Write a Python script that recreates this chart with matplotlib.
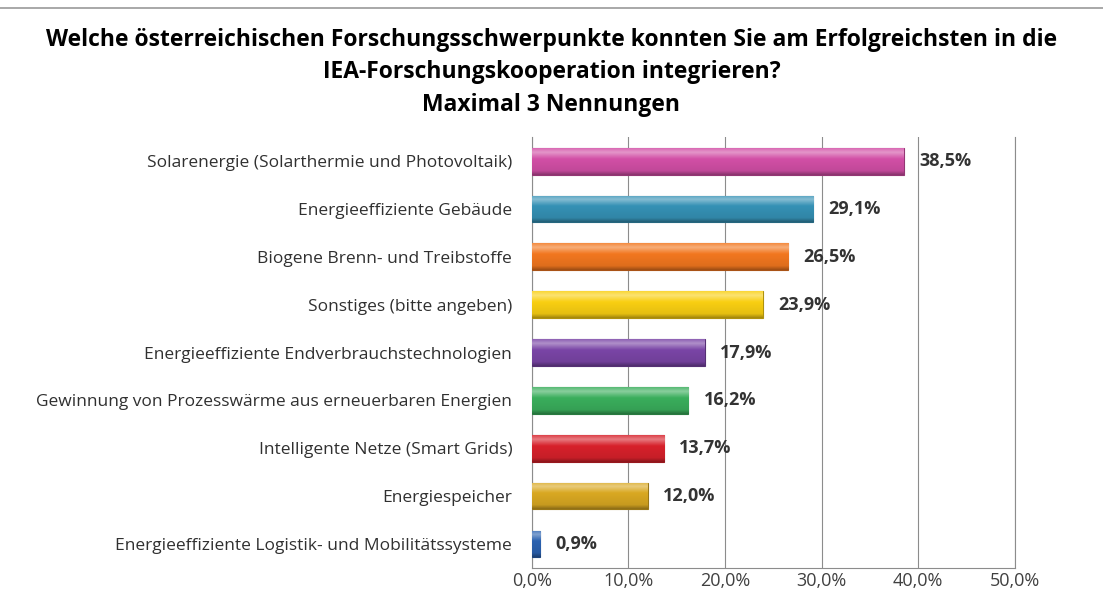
import numpy as np
import matplotlib.pyplot as plt
from matplotlib.colors import LinearSegmentedColormap, to_rgb

categories = [
    "Solarenergie (Solarthermie und Photovoltaik)",
    "Energieeffiziente Gebäude",
    "Biogene Brenn- und Treibstoffe",
    "Sonstiges (bitte angeben)",
    "Energieeffiziente Endverbrauchstechnologien",
    "Gewinnung von Prozesswärme aus erneuerbaren Energien",
    "Intelligente Netze (Smart Grids)",
    "Energiespeicher",
    "Energieeffiziente Logistik- und Mobilitätssysteme",
]
values = [38.5, 29.1, 26.5, 23.9, 17.9, 16.2, 13.7, 12.0, 0.9]
colors = ["#d24fa6", "#3591b5", "#f2771f", "#f9cf12", "#7a45a6",
          "#3aae5c", "#d7212b", "#d9a822", "#2b62b0"]
xticks = [0, 10, 20, 30, 40, 50]

plt.rcParams['font.family'] = ['Open Sans', 'DejaVu Sans']

fig = plt.figure(figsize=(11.03, 5.94), dpi=100)
ax = fig.add_axes([0.482, 0.044, 0.438, 0.725])

y = np.arange(len(categories))
bars = ax.barh(y, values, height=0.56, color=colors, zorder=3)


def shade(c, f):
    r = np.array(to_rgb(c))
    if f > 0:
        return tuple(r + (1 - r) * f)
    return tuple(r * (1 + f))


# glossy gradient on each bar (top light, bottom dark)
for b, c in zip(bars, colors):
    cmap = LinearSegmentedColormap.from_list(
        "g", [(0, shade(c, 0.15)), (0.15, shade(c, 0.4)), (0.4, c),
              (0.85, shade(c, -0.08)), (1, shade(c, -0.35))])
    grad = np.linspace(0, 1, 64).reshape(-1, 1)
    x0, y0 = b.get_x(), b.get_y()
    w, h = b.get_width(), b.get_height()
    im = ax.imshow(grad, cmap=cmap, extent=[x0, x0 + w, y0, y0 + h],
                   origin="lower", aspect="auto", zorder=3.5)
    im.set_clip_path(b)
    b.set_edgecolor(shade(c, -0.3))
    b.set_linewidth(0.8)

for yi, v in zip(y, values):
    ax.annotate(f"{v:.1f}%".replace(".", ","), (v, yi), xytext=(11, 0),
                textcoords="offset points", va="center", ha="left",
                fontsize=13, fontweight="bold", color="#333333", zorder=5)

ax.set_xlim(0, 50)
ax.set_ylim(len(categories) - 0.5, -0.5)
ax.set_xticks(xticks)
ax.set_xticklabels([f"{t:.1f}%".replace(".", ",") for t in xticks],
                   fontsize=13, color="#404040")
ax.set_yticks(y)
ax.set_yticklabels(categories, fontsize=12.5, color="#303030")
ax.tick_params(axis="y", length=0, pad=14)
ax.tick_params(axis="x", length=0, pad=3)
ax.grid(axis="x", color="#8c8c8c", linewidth=0.8, zorder=0)
ax.spines["top"].set_visible(False)
for s in ["left", "bottom", "right"]:
    ax.spines[s].set_color("#8c8c8c")
    ax.spines[s].set_linewidth(0.8)

fig.text(0.5, 0.933, "Welche österreichischen Forschungsschwerpunkte konnten Sie am Erfolgreichsten in die",
         ha="center", va="center", fontsize=16.5, fontweight="bold")
fig.text(0.5, 0.878, "IEA-Forschungskooperation integrieren?",
         ha="center", va="center", fontsize=16.5, fontweight="bold")
fig.text(0.5, 0.824, "Maximal 3 Nennungen",
         ha="center", va="center", fontsize=16.5, fontweight="bold")
fig.add_artist(plt.Line2D([0, 1], [0.986, 0.986], color="#999999", linewidth=1.2))

fig.savefig("out.png", dpi=100)
